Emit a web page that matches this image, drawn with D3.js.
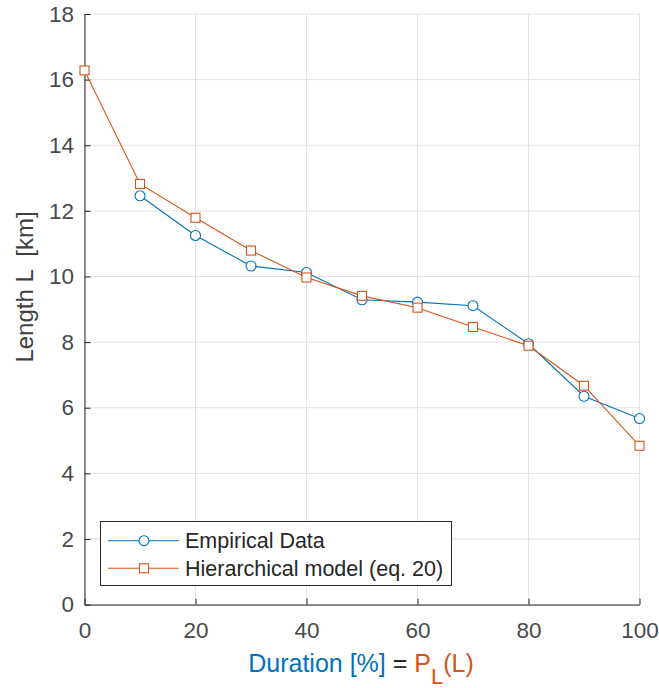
<!DOCTYPE html>
<html><head><meta charset="utf-8">
<script src="https://cdn.jsdelivr.net/npm/d3@7"></script>
<style>body{margin:0;background:#fff;} svg{display:block;font-family:"Liberation Sans",Arial,sans-serif;}</style>
</head><body><svg id="c" width="659" height="688"></svg>
<script>
const durations = [0,10,20,30,40,50,60,70,80,90,100];
const empirical = [null,12.46,11.25,10.32,10.12,9.29,9.22,9.11,7.95,6.35,5.67];
const model = [16.28,12.82,11.79,10.79,9.97,9.41,9.05,8.46,7.89,6.67,4.84];
const xTicks = [0,20,40,60,80,100];
const yTicks = [0,2,4,6,8,10,12,14,16,18];
const seriesNames = ["Empirical Data","Hierarchical model (eq. 20)"];
const blue="#0072BD", orange="#D95319";

const svg=d3.select("#c");
const L=84.5,R=639.5,T=14,B=604.6;
const x=d3.scaleLinear().domain([0,100]).range([L,R]);
const y=d3.scaleLinear().domain([0,18]).range([B,T]);

// grid
const g=svg.append("g");
g.selectAll(".gx").data(xTicks).enter().append("line")
 .attr("x1",d=>x(d)).attr("x2",d=>x(d)).attr("y1",T).attr("y2",B)
 .attr("stroke","#e3e3e3").attr("stroke-width",1);
g.selectAll(".gy").data(yTicks).enter().append("line")
 .attr("x1",L).attr("x2",R).attr("y1",d=>y(d)).attr("y2",d=>y(d))
 .attr("stroke","#e3e3e3").attr("stroke-width",1);

// axes
const xAxis=d3.axisBottom(x).tickValues(xTicks).tickSizeInner(-6).tickSizeOuter(0).tickPadding(17);
const yAxis=d3.axisLeft(y).tickValues(yTicks).tickSizeInner(-6).tickSizeOuter(0).tickPadding(10.5);
const ax=svg.append("g").attr("transform",`translate(0,${B})`).call(xAxis);
const ay=svg.append("g").attr("transform",`translate(${L},0)`).call(yAxis);
[ax,ay].forEach(a=>{
  a.select(".domain").attr("stroke","#262626").attr("stroke-width",1);
  a.selectAll(".tick line").attr("stroke","#262626");
  a.selectAll("text").attr("fill","#4a4a4a").style("font-size","22.5px").style("font-family","'Liberation Sans',Arial,sans-serif");
});

// lines
const line=d3.line().defined(d=>d[1]!=null).x(d=>x(d[0])).y(d=>y(d[1]));
const empData=durations.map((d,i)=>[d,empirical[i]]);
const modData=durations.map((d,i)=>[d,model[i]]);
svg.append("path").datum(empData).attr("d",line).attr("fill","none").attr("stroke",blue).attr("stroke-width",1.1);
svg.append("path").datum(modData).attr("d",line).attr("fill","none").attr("stroke",orange).attr("stroke-width",1.1);
svg.selectAll(".m1").data(empData.filter(d=>d[1]!=null)).enter().append("circle")
 .attr("cx",d=>x(d[0])).attr("cy",d=>y(d[1])).attr("r",5)
 .attr("fill","#fff").attr("stroke",blue).attr("stroke-width",1.1);
svg.selectAll(".m2").data(modData).enter().append("rect")
 .attr("x",d=>x(d[0])-4.5).attr("y",d=>y(d[1])-4.5).attr("width",9).attr("height",9)
 .attr("fill","#fff").attr("stroke",orange).attr("stroke-width",1.1);

// legend
const lg=svg.append("g");
lg.append("rect").attr("x",100.5).attr("y",521.5).attr("width",351).attr("height",64)
 .attr("fill","#fff").attr("stroke","#262626").attr("stroke-width",1);
const rows=[{c:blue,t:seriesNames[0],m:"c",yy:540.7},{c:orange,t:seriesNames[1],m:"s",yy:568.3}];
rows.forEach(r=>{
  lg.append("line").attr("x1",108).attr("x2",179).attr("y1",r.yy).attr("y2",r.yy).attr("stroke",r.c).attr("stroke-width",1.1);
  if(r.m==="c") lg.append("circle").attr("cx",144).attr("cy",r.yy).attr("r",5).attr("fill","#fff").attr("stroke",r.c).attr("stroke-width",1.1);
  else lg.append("rect").attr("x",139.5).attr("y",r.yy-4.5).attr("width",9).attr("height",9).attr("fill","#fff").attr("stroke",r.c).attr("stroke-width",1.1);
  lg.append("text").attr("x",185).attr("y",r.yy+7.5).attr("fill","#262626").style("font-size","21.5px").text(r.t);
});

// x label
const xl=svg.append("text").attr("x",(L+R)/2-1).attr("y",672).attr("text-anchor","middle").style("font-size","25px");
xl.append("tspan").attr("fill",blue).text("Duration [%]");
xl.append("tspan").attr("fill","#262626").text(" = ");
xl.append("tspan").attr("fill",orange).text("P");
xl.append("tspan").attr("fill",orange).attr("dy",12).style("font-size","22px").text("L");
xl.append("tspan").attr("fill",orange).attr("dy",-12).text("(L)");

// y label
svg.append("text").attr("transform",`translate(33,287) rotate(-90)`).attr("text-anchor","middle")
 .attr("fill","#404040").style("font-size","24px").style("white-space","pre").text("Length L  [km]");
</script></body></html>
